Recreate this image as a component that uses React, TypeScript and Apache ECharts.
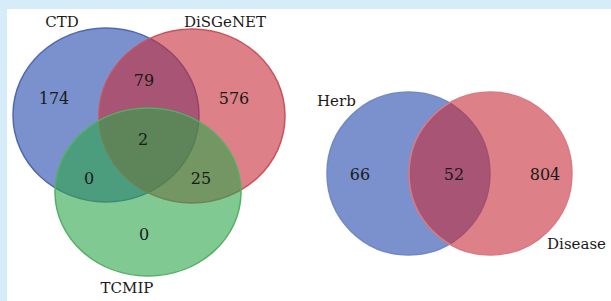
import React, { useEffect, useRef } from "react";
import * as echarts from "echarts";

// Set names and counts
const setsLeft = ["CTD", "DiSGeNET", "TCMIP"];
const setsRight = ["Herb", "Disease"];
const regionLabelsLeft = ["CTD only", "CTD∩DiSGeNET", "DiSGeNET only", "All three", "CTD∩TCMIP", "DiSGeNET∩TCMIP", "TCMIP only"];
const regionCountsLeft = [174, 79, 576, 2, 0, 25, 0];
const regionLabelsRight = ["Herb only", "Herb∩Disease", "Disease only"];
const regionCountsRight = [66, 52, 804];

// Layout (pixel-like coordinate space of the hidden axes)
const ellipseLayout = [
  { cx: 106, cy: 115, rx: 93, ry: 87, fill: "rgba(33,72,172,0.6)", stroke: "#5068b4" },
  { cx: 192, cy: 116, rx: 93, ry: 87, fill: "rgba(198,43,57,0.6)", stroke: "#c9525c" },
  { cx: 148, cy: 192, rx: 93, ry: 84, fill: "rgba(45,165,73,0.6)", stroke: "#52b064" },
  { cx: 408.5, cy: 173.5, rx: 81.5, ry: 81.5, fill: "rgba(33,72,172,0.6)", stroke: "#7089c6" },
  { cx: 490.5, cy: 173.5, rx: 81.5, ry: 81.5, fill: "rgba(198,43,57,0.6)", stroke: "#d97a83" },
];
const setNamePos = [
  { x: 62, y: 22, align: "center" },
  { x: 225, y: 22, align: "center" },
  { x: 127, y: 288, align: "center" },
  { x: 317, y: 101, align: "left" },
  { x: 606, y: 244, align: "right" },
];
const regionPos = [
  [54, 98], [144, 80], [234, 98], [143, 139], [89, 178], [201, 178], [144, 234],
  [360, 174], [454, 174], [545, 174],
];

const FONT = "DejaVu Serif";

export default function App() {
  const ref = useRef<HTMLDivElement>(null);
  useEffect(() => {
    if (!ref.current) return;
    const chart = echarts.init(ref.current, null, { renderer: "svg" });
    const setNames = [...setsLeft, ...setsRight];
    const counts = [...regionCountsLeft, ...regionCountsRight];
    const regionNames = [...regionLabelsLeft, ...regionLabelsRight];
    chart.setOption({
      animation: false,
      backgroundColor: "#d6ecf9",
      graphic: [
        { type: "rect", shape: { x: 7, y: 9, width: 604, height: 292 }, style: { fill: "#ffffff" }, z: -10 },
      ],
      grid: { left: 0, right: 0, top: 0, bottom: 0 },
      xAxis: { type: "value", min: 0, max: 611, show: false },
      yAxis: { type: "value", min: 0, max: 301, inverse: true, show: false },
      series: [
        {
          type: "custom",
          data: ellipseLayout.map((e, i) => ({ name: setNames[i], value: [e.cx, e.cy, e.rx, e.ry] })),
          renderItem: (params: any, api: any) => {
            const e = ellipseLayout[params.dataIndex];
            const c = api.coord([api.value(0), api.value(1)]);
            const s = api.size([api.value(2), api.value(3)]);
            return {
              type: "ellipse",
              shape: { cx: c[0], cy: c[1], rx: s[0], ry: s[1] },
              style: { fill: e.fill, stroke: e.stroke, lineWidth: 1.5 },
            };
          },
          z: 2,
        },
        {
          type: "custom",
          data: setNamePos.map((p, i) => ({ name: setNames[i], value: [p.x, p.y] })),
          renderItem: (params: any, api: any) => {
            const p = setNamePos[params.dataIndex];
            const c = api.coord([api.value(0), api.value(1)]);
            return {
              type: "text",
              x: c[0],
              y: c[1],
              style: {
                text: setNames[params.dataIndex],
                fontFamily: FONT,
                fontSize: 15,
                fill: "#1a1a1a",
                align: p.align,
                verticalAlign: "middle",
              },
            };
          },
          z: 5,
        },
        {
          type: "custom",
          data: regionPos.map((p, i) => ({ name: regionNames[i], value: [p[0], p[1], counts[i]] })),
          renderItem: (params: any, api: any) => {
            const c = api.coord([api.value(0), api.value(1)]);
            return {
              type: "text",
              x: c[0],
              y: c[1],
              style: {
                text: String(api.value(2)),
                fontFamily: FONT,
                fontSize: 16,
                fill: "#1a1a1a",
                align: "center",
                verticalAlign: "middle",
              },
            };
          },
          z: 5,
        },
      ],
    });
    return () => chart.dispose();
  }, []);
  return (
    <div
      ref={ref}
      style={{ position: "fixed", left: 0, top: 0, width: 611, height: 301 }}
    />
  );
}
